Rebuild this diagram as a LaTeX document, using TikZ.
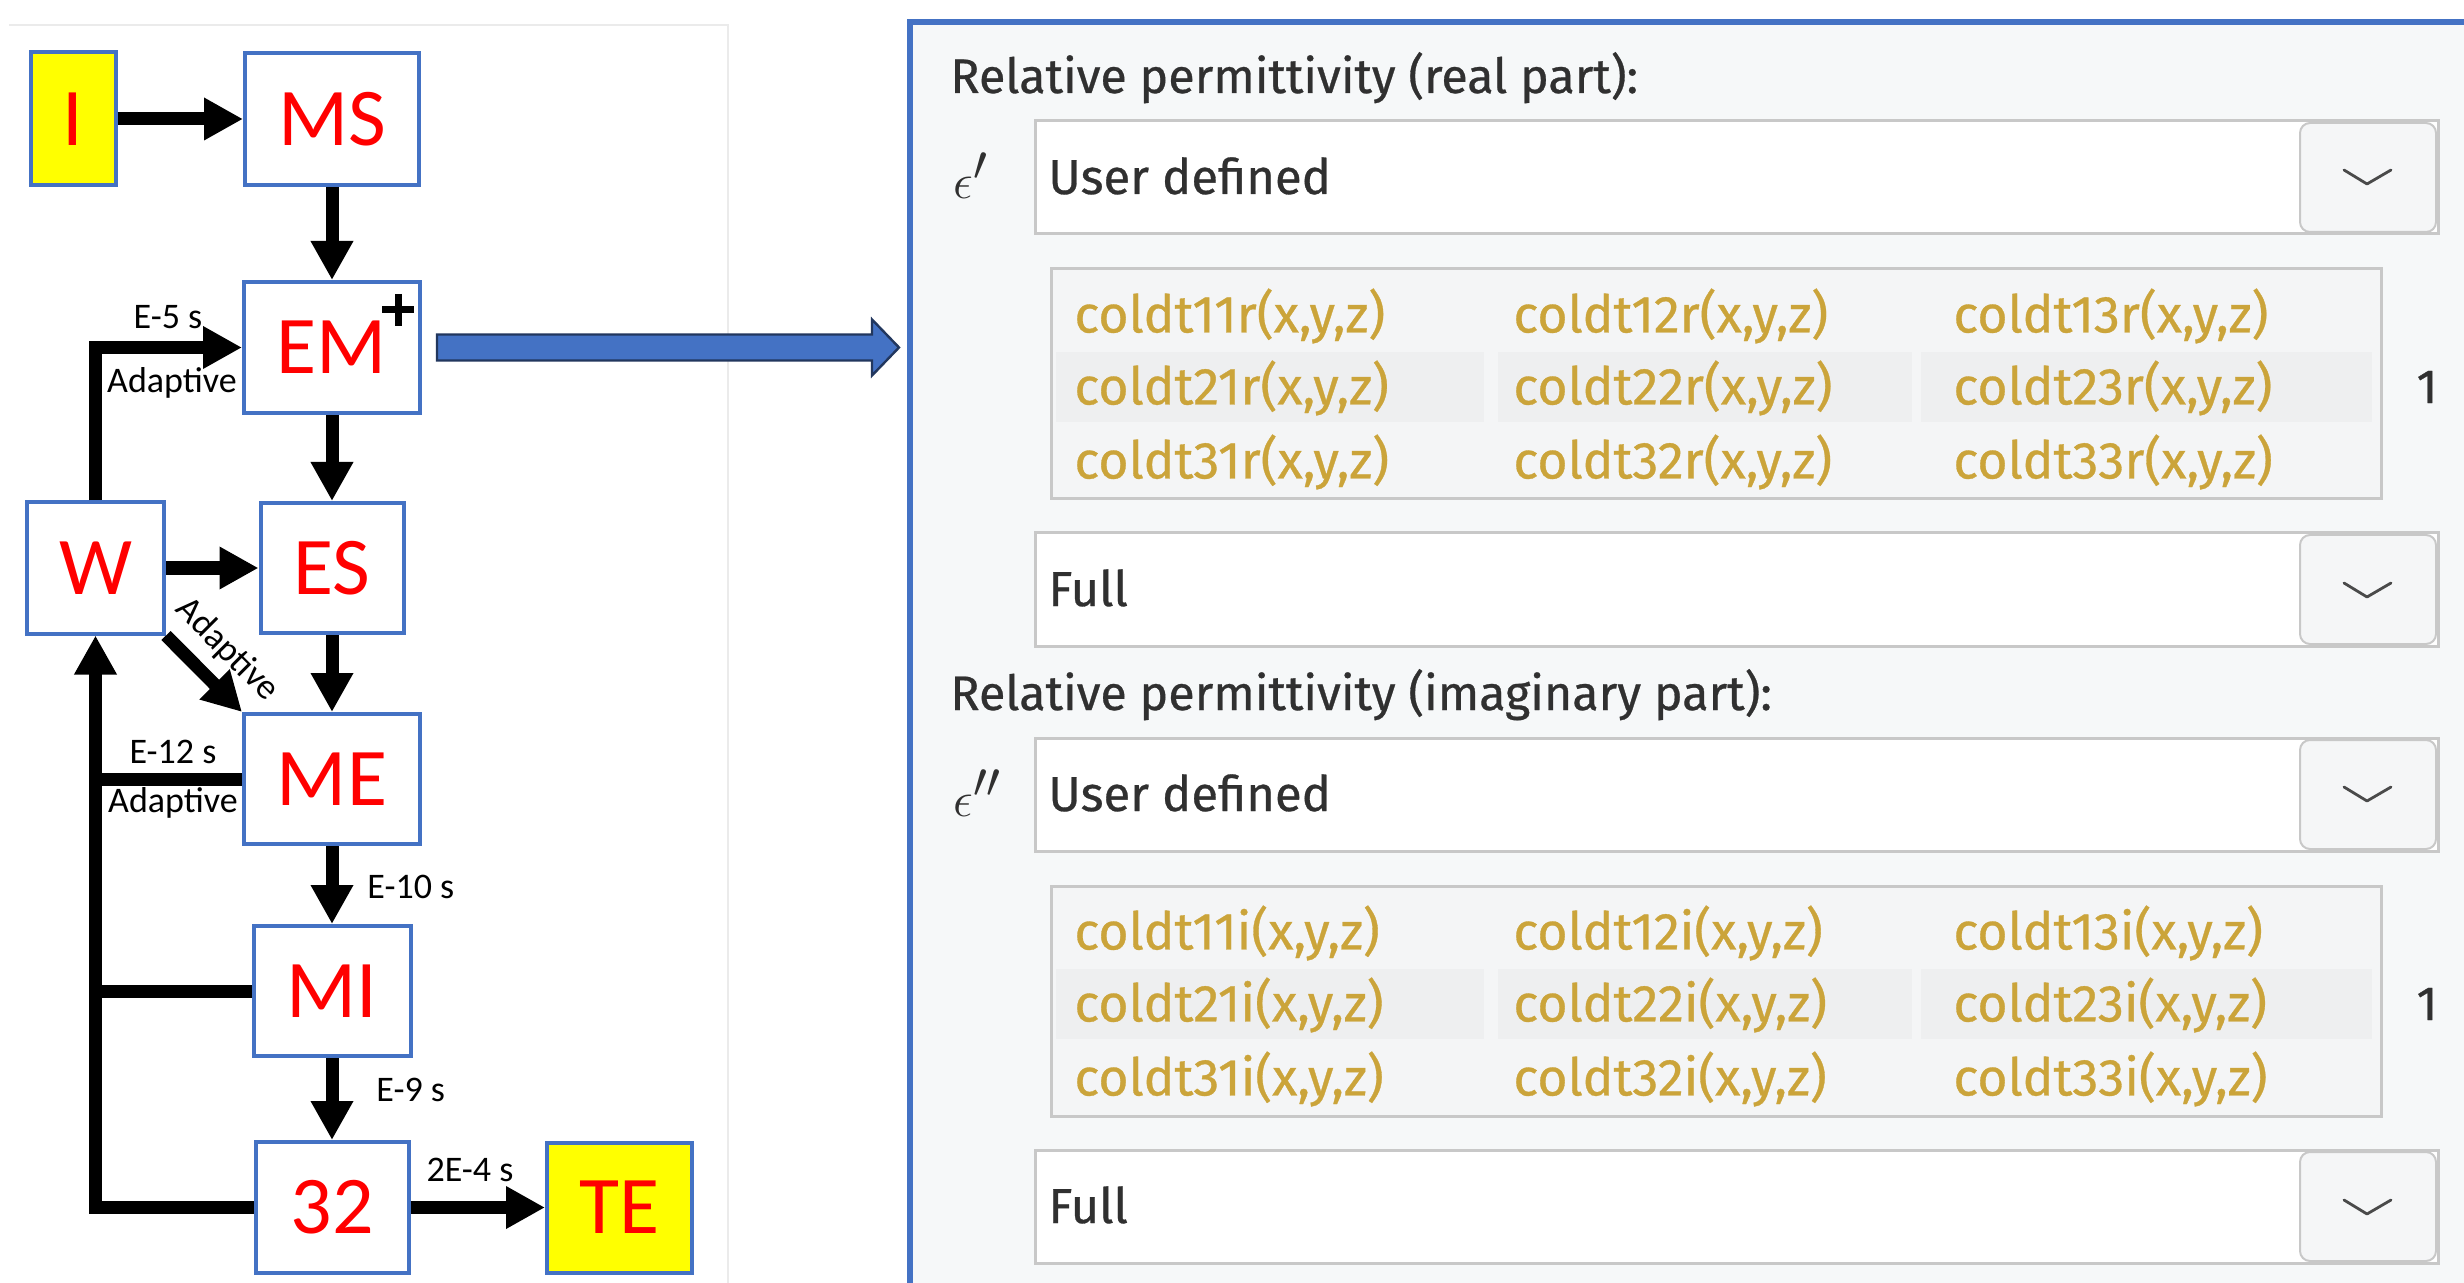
\documentclass[tikz,border=0pt]{standalone}
\usepackage{fontspec}
\setmainfont{Carlito}
\newfontfamily\ui[FakeBold=0.6]{Fira Sans}
\usetikzlibrary{arrows.meta,calc}
\definecolor{bblue}{HTML}{4472C4}
\definecolor{dblue}{HTML}{22375E}
\definecolor{panelbg}{HTML}{F6F8F9}
\definecolor{inborder}{HTML}{C8C8C8}
\definecolor{matbg}{HTML}{F4F5F6}
\definecolor{rowbg}{HTML}{EEEFF0}
\definecolor{gold}{HTML}{CBA43A}
\definecolor{uitext}{HTML}{303030}
\definecolor{chev}{HTML}{4A4A4A}
\definecolor{btnbg}{HTML}{F5F6F7}
\definecolor{nodered}{HTML}{FF0000}
\definecolor{nodeyel}{HTML}{FFFF00}
\tikzset{
  box/.style={draw=bblue, line width=2pt, fill=white, text=nodered, inner sep=0pt,
    font=\fontsize{41}{43}\selectfont},
  ybox/.style={box, fill=nodeyel},
  conn/.style={line width=6.5pt, line join=miter, -{Triangle[length=19.5pt,width=20pt]}},
  link/.style={line width=6.5pt},
  lbl/.style={font=\fontsize{18}{20}\selectfont, inner sep=0pt},
  head/.style={font=\ui\fontsize{24.2}{26}\selectfont, text=uitext, inner sep=0pt, anchor=base west},
  sym/.style={font=\fontsize{33}{35}\selectfont, text=uitext, inner sep=0pt, anchor=base west},
  field/.style={font=\ui\fontsize{24.5}{27}\selectfont, text=uitext, inner sep=0pt, anchor=base west},
  mat/.style={font=\ui\fontsize{26}{28}\selectfont, text=gold, inner sep=0pt, anchor=west},
  one/.style={font=\ui\fontsize{24}{26}\selectfont, text=uitext, inner sep=0pt},
  inbox/.style={fill=white, draw=inborder, line width=1.5pt},
  btn/.style={fill=btnbg, draw=inborder, line width=1pt, rounded corners=5pt},
  chevron/.style={draw=chev, line width=1.4pt, line cap=round, line join=round},
  matbox/.style={fill=matbg, draw=inborder, line width=1.5pt},
}
\newcommand\permblock[3]{%
  \node[head] (head#1) at (950,93) {#2};
  \node[sym] (sym#1) at (953,199) {#3};
  \draw[inbox] (1035,121) rectangle (2438,234);
  \draw[btn] (2300,123) rectangle (2436,232);
  \draw[chevron] (2344,170) -- (2367,184) -- (2391,170);
  \node[field] (ud#1) at (1048,194) {User defined};
  \draw[matbox] (1051,269) rectangle (2381,499);
  \fill[rowbg] (1056,352) rectangle (1484,422);
  \fill[rowbg] (1498,352) rectangle (1912,422);
  \fill[rowbg] (1921,352) rectangle (2372,422);
  \foreach \r/\yy in {1/316,2/388,3/462}{
    \foreach \c/\xx in {1/1074,2/1513,3/1953}{
      \node[mat] (m#1\r\c) at (\xx,\yy) {coldt\r\c#1(x,y,z)};
    }
  }
  \node[one] (one#1) at (2427,387) {1};
  \draw[inbox] (1035,533) rectangle (2438,646);
  \draw[btn] (2300,535) rectangle (2436,644);
  \draw[chevron] (2344,583) -- (2367,597) -- (2391,583);
  \node[field] (full#1) at (1048,606) {Full};
}
\begin{document}
\begin{tikzpicture}[x=0.5pt,y=-0.5pt]
\useasboundingbox (0,0) rectangle (2464,1283);
\clip (0,0) rectangle (2464,1283);
\fill[white] (0,0) rectangle (2464,1283);
% faint frame of the left picture
\draw[black!8, line width=0.75pt] (9,25) -- (728,25) -- (728,1290);

% nodes
\node[ybox, minimum width=42.5pt, minimum height=66.5pt] (I)  at (73,119)    {I};
\node[box,  minimum width=87pt,   minimum height=66pt]   (MS) at (332,119)   {MS};
\node[box,  minimum width=88pt,   minimum height=65.5pt] (EM) at (332,347.5) {EM};
\node[box,  minimum width=68.5pt, minimum height=65.5pt] (W)  at (95.5,568)  {W};
\node[box,  minimum width=71.5pt, minimum height=65pt]   (ES) at (332,568)   {ES};
\node[box,  minimum width=88pt,   minimum height=65pt]   (ME) at (332,779)   {ME};
\node[box,  minimum width=78.5pt, minimum height=65pt]   (MI) at (332,991)   {MI};
\node[box,  minimum width=76.5pt, minimum height=65.5pt] (T32) at (332,1207.5) {32};
\node[ybox, minimum width=72.5pt, minimum height=65pt]   (TE) at (619.5,1207.5) {TE};

% plus mark on EM
\draw[line width=3.5pt] ($(EM.north east)+(-24,30)$) +(-16,0) -- +(16,0) +(0,-16) -- +(0,16);

% connectors
\draw[conn] (I) -- (MS);
\draw[conn] (MS) -- (EM);
\draw[conn] (EM) -- (ES);
\draw[conn] (ES) -- (ME);
\draw[conn] (ME) -- (MI);
\draw[conn] (MI) -- (T32);
\draw[conn] (T32) -- (TE);
\draw[conn] (W) -- (ES);
\draw[conn] (W.north) |- (EM.west);
\draw[conn] (W.south east) -- (ME.north west);
\draw[conn] (T32.west) -| (W.south);
\draw[link] (ME.west) -- (ME.west -| W.south);
\draw[link] (MI.west) -- (MI.west -| W.south);

% labels
\node[lbl] (l1) at (168,317) {E-5 s};
\node[lbl] (l2) at (172,383) {Adaptive};
\node[lbl, rotate=-45] (l3) at (227,650) {Adaptive};
\node[lbl] (l4) at (173,752) {E-12 s};
\node[lbl] (l5) at (173,803) {Adaptive};
\node[lbl, anchor=west] (l6) at (367,887) {E-10 s};
\node[lbl, anchor=west] (l7) at (376,1090) {E-9 s};
\node[lbl] (l8) at (470,1170) {2E-4 s};

% panel
\draw[draw=bblue, line width=3pt, fill=panelbg] (909.5,22.5) rectangle (2520,1340);

% block arrow from EM to the panel
\draw[draw=dblue, line width=1.2pt, fill=bblue, line join=miter]
  ($(EM.east)+(15,-13)$) -- ($(EM.east)+(450,-13)$) -- ($(EM.east)+(450,-28)$)
  -- ($(EM.east)+(477,0)$) -- ($(EM.east)+(450,28)$) -- ($(EM.east)+(450,13)$)
  -- ($(EM.east)+(15,13)$) -- cycle;

\permblock{r}{Relative permittivity (real part):}{$\epsilon'$}
\begin{scope}[shift={(0,617)}]
\permblock{i}{Relative permittivity (imaginary part):}{$\epsilon''$}
\end{scope}
\end{tikzpicture}
\end{document}
